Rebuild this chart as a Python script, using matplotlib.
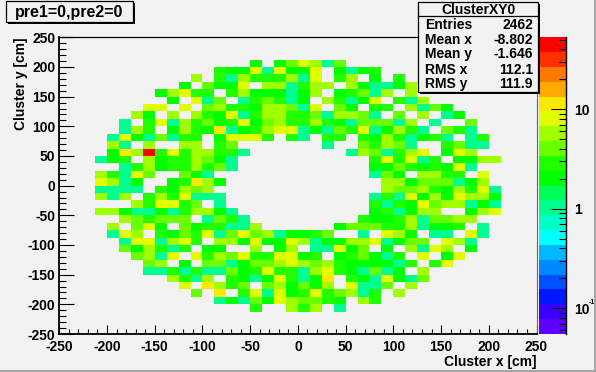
import numpy as np
import matplotlib
matplotlib.use("Agg")
import matplotlib.pyplot as plt
from matplotlib.colors import ListedColormap, LogNorm
from matplotlib.patches import Rectangle
from matplotlib.ticker import MultipleLocator, LogLocator, NullFormatter

plt.rcParams['font.family'] = ['Liberation Sans', 'DejaVu Sans']
plt.rcParams['font.weight'] = 'bold'
plt.rcParams['axes.unicode_minus'] = False

# histogram counts, rows from the top, first filled column per row
row_first = [16, 13, 11, 10, 8, 9, 7, 6, 5, 5, 4, 4, 4, 3, 5, 3, 3, 3, 3, 6, 3, 5, 4, 4, 5, 5, 6, 7, 7, 9, 10, 11, 13, 16]
row_counts = [
    [2,0,2,4,7,5,1,4],
    [3,2,2,7,1,7,2,2,7,0,2,1,2,3],
    [5,0,3,1,5,3,3,3,5,1,7,0,3,5,0,2,0,3],
    [2,0,4,2,2,7,0,5,5,1,3,5,5,0,5,2,1,1,2,5],
    [2,5,7,3,3,0,3,5,2,2,2,1,2,5,0,2,3,4,1,5,0,5],
    [2,0,7,1,4,0,1,3,4,3,1,2,0,5,3,1,2,7,0,3,1,5],
    [7,7,0,7,0,4,5,3,3,2,5,5,4,1,7,0,4,2,0,3,3,0,5,1,4,2],
    [5,2,0,5,0,5,3,2,7,1,3,5,5,3,3,4,1,5,5,4,1,0,4,0,5,0,1,2],
    [1,0,3,7,1,5,3,4,2,3,7,2,4,5,3,3,5,3,2,1,4,4,4,1,5,0,1,0,0,4],
    [1,5,3,0,2,5,3,2,10,1,2,3,5,7,7,1,2,1,4,3,7,1,2,5,3,1,0,4,3,1],
    [1,7,2,1,4,1,3,3,0,2,7,7,7,3,0,3,1,0,3,3,0,3,2,5,3,1,2,3,1,0,1,3],
    [5,1,0,5,0,0,5,5,0,3,4,0,0,0,0,0,0,0,1,0,0,4,3,5,4,1,0,0,3,4,1,1],
    [2,10,5,40,3,7,3,5,5,3,3,1,0,0,0,0,0,0,0,0,1,5,4,1,3,5,7,0,2,7,5],
    [1,2,3,0,5,2,3,3,5,4,2,1,0,0,0,0,0,0,0,0,0,0,0,3,7,3,7,1,3,0,2,2,5,5],
    [1,3,5,2,3,3,5,3,4,1,0,0,0,0,0,0,0,0,0,0,0,2,2,4,3,2,3,2,7,1],
    [5,3,1,7,4,0,0,4,2,1,0,0,0,0,0,0,0,0,0,0,0,0,0,1,4,2,0,5,5,3,3,0,7],
    [7,5,1,2,0,0,2,3,10,5,2,0,0,0,0,0,0,0,0,0,0,0,0,0,5,5,2,4,4,4,1,2,5],
    [1,1,1,1,0,3,2,5,4,5,0,0,0,0,0,0,0,0,0,0,0,0,0,0,5,4,4,5,3,2,5,3,7,1],
    [5,1,5,0,3,5,3,7,1,1,1,0,0,0,0,0,0,0,0,0,0,0,0,1,3,1,7,2,5,2,7,5,5,2],
    [5,3,7,7,3,4,0,1,0,0,0,0,0,0,0,0,0,0,0,0,3,1,3,2,7,4,5,5,1,2,1],
    [5,5,2,1,1,2,1,3,5,5,2,1,0,0,0,0,0,0,0,0,0,0,0,2,3,1,2,5,5,0,0,2,5,7],
    [5,4,3,4,4,4,0,1,4,3,1,0,0,0,0,0,0,0,0,0,3,2,2,3,5,1,4,4,5,5],
    [5,0,4,7,2,0,4,2,3,3,1,1,5,0,0,0,0,0,0,2,4,4,4,3,3,5,1,2,2,3,0,1],
    [1,7,5,0,3,2,4,3,7,1,4,7,4,5,1,2,2,3,4,0,0,1,0,7,5,2,0,1,1,0,7,1],
    [1,7,7,1,5,7,3,0,5,5,2,7,2,2,7,5,1,2,2,5,5,7,1,2,4,4,0,7,5,1],
    [4,2,5,3,1,3,0,2,2,0,0,5,0,2,5,0,1,1,7,2,4,0,2,0,5,1,7,5,0,2],
    [4,5,1,7,0,7,3,5,4,7,3,3,7,7,2,3,0,2,3,4,2,1,3,0,7,0,2,7],
    [4,5,0,2,0,4,4,1,2,4,4,5,7,5,4,5,3,2,2,2,2,1,3,0,3,7],
    [1,1,3,1,3,1,1,4,2,3,7,3,3,1,5,7,3,2,1,4,1,2,0,5],
    [5,3,1,5,0,3,2,1,2,7,3,1,2,10,0,3,2,1,7,2,1,4],
    [7,0,10,5,3,4,0,4,5,2,4,2,5,0,7,1,1,4,0,5],
    [4,0,10,0,3,7,1,7,2,3,7,3,4,5,1,3,0,5],
    [1,2,1,4,2,7,5,4,4,3,2,0,5,3],
    [3,0,0,5,3,5,0,1],
]

stats_labels = ["Entries", "Mean x", "Mean y", "RMS x", "RMS y"]
stats_values = ["2462", "-8.802", "-1.646", "112.1", "111.9"]

palette = ['#6000ff', '#3a00ff', '#0018ff', '#0050ff', '#0088ff', '#00b8ff', '#00ffff',
           '#00ffc8', '#00ff90', '#00ff58', '#00ff00', '#20ff00', '#68ff00', '#a0ff00',
           '#e0ff00', '#ffe800', '#ffaa00', '#ff7800', '#ff3000', '#ff0000']

W, H = 596, 372
BG = '#f2f2f2'

counts = np.zeros((40, 40))
for r, (first, vals) in enumerate(zip(row_first, row_counts)):
    counts[36 - r, first:first + len(vals)] = vals
edges = np.linspace(-250, 250, 41)


def px_axes(left, top, right, bottom):
    return fig.add_axes([left / W, 1 - bottom / H, (right - left) / W, (bottom - top) / H])


fig = plt.figure(figsize=(W / 100, H / 100), dpi=100, facecolor=BG)

ax = px_axes(59.3, 37.3, 536.5, 334)
ax.set_facecolor(BG)
norm = LogNorm(vmin=0.055, vmax=52.8)
cmap = ListedColormap(palette)
mesh = ax.pcolormesh(edges, edges, np.ma.masked_equal(counts, 0), cmap=cmap, norm=norm)
ax.set_xlim(-250, 250)
ax.set_ylim(-250, 250)
ax.xaxis.set_major_locator(MultipleLocator(50))
ax.xaxis.set_minor_locator(MultipleLocator(10))
ax.yaxis.set_major_locator(MultipleLocator(50))
ax.yaxis.set_minor_locator(MultipleLocator(10))
ax.tick_params(axis='x', which='major', direction='in', length=6.5, width=0.8, labelsize=10, pad=4)
ax.tick_params(axis='x', which='minor', direction='in', length=3.4, width=0.8)
ax.tick_params(axis='y', which='major', direction='in', length=10.5, width=0.8, labelsize=10, pad=3)
ax.tick_params(axis='y', which='minor', direction='in', length=5.2, width=0.8)
for side in ['left', 'bottom']:
    ax.spines[side].set_linewidth(1.3)
ax.spines['top'].set_linewidth(0.9)
ax.spines['right'].set_linewidth(0.8)
ax.spines['right'].set_color('#666666')

# colour bar on the right, ticks pointing into it
cax = px_axes(539.3, 37.3, 566, 334)
cb = fig.colorbar(mesh, cax=cax, spacing='proportional', drawedges=False)
cb.outline.set_visible(False)
cax.spines['right'].set_visible(True)
cax.spines['right'].set_linewidth(1)
cax.yaxis.set_major_locator(LogLocator(base=10, numticks=5))
cax.yaxis.set_minor_locator(LogLocator(base=10, subs=np.arange(2, 10), numticks=5))
cax.yaxis.set_minor_formatter(NullFormatter())
cax.set_yticks([0.1, 1, 10], ['10', '1', '10'])
cax.tick_params(axis='y', which='major', direction='in', length=10.5, width=0.8, labelsize=10, pad=6)
cax.tick_params(axis='y', which='minor', direction='in', length=5.2, width=0.8)

# pixel overlay for the boxes, axis titles and canvas edge
ov = fig.add_axes([0, 0, 1, 1], zorder=10)
ov.set_xlim(0, W)
ov.set_ylim(H, 0)
ov.axis('off')
ov.patch.set_alpha(0)

ov.add_patch(Rectangle((594, 0), 2, H, color='#a6a6a6', lw=0))
ov.add_patch(Rectangle((0, 370), W, 2, color='#a6a6a6', lw=0))

ov.text(589, 303, "-1", ha='left', va='center', fontsize=5)

ov.add_patch(Rectangle((8, 3), 127, 21, color='black', lw=0))
ov.add_patch(Rectangle((6, 1), 127, 21, fc=BG, ec='black', lw=0.9))
ov.text(69.5, 12, "pre1=0,pre2=0", ha='center', va='center', fontsize=11.5)

ov.add_patch(Rectangle((420, 4), 120, 90, color='black', lw=0))
ov.add_patch(Rectangle((418, 2), 120, 90, fc=BG, ec='black', lw=0.9))
ov.plot([418, 538], [16, 16], color='black', lw=0.9)
ov.text(478, 10, "ClusterXY0", ha='center', va='center', fontsize=10)
for y, lab, val in zip([24.7, 40, 54, 70, 84], stats_labels, stats_values):
    ov.text(425, y, lab, ha='left', va='center', fontsize=10)
    ov.text(533, y, val, ha='right', va='center', fontsize=10)

ov.text(536, 362, "Cluster x [cm]", ha='right', va='center', fontsize=10)
ov.text(21, 37, "Cluster y [cm]", ha='center', va='top', rotation=90, fontsize=10)

fig.savefig("out.png", dpi=100, facecolor=BG)
